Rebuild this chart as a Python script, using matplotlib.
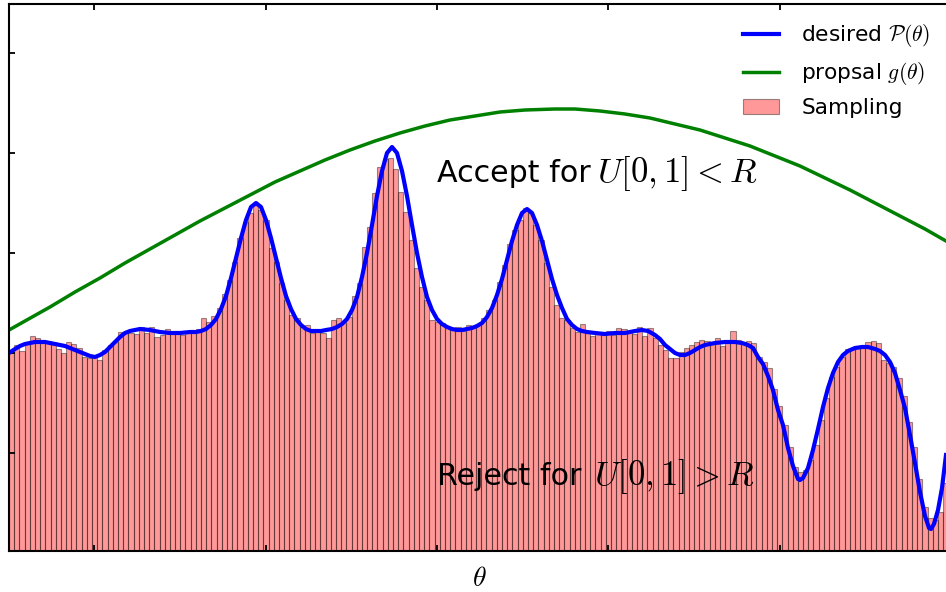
import numpy as np
import matplotlib
matplotlib.use("Agg")
import matplotlib.pyplot as plt

plt.rcParams['mathtext.fontset'] = 'cm'

# histogram of the accepted samples (density per bin, left to right)
bin_left = -4.28
bin_width = 0.0519
sample_density = [
    0.200, 0.208, 0.202, 0.210, 0.217, 0.215, 0.213, 0.212, 0.211, 0.204,
    0.200, 0.211, 0.209, 0.205, 0.196, 0.195, 0.196, 0.193, 0.203, 0.208,
    0.211, 0.221, 0.220, 0.220, 0.219, 0.226, 0.220, 0.226, 0.216, 0.218,
    0.224, 0.221, 0.222, 0.218, 0.220, 0.221, 0.224,
    0.235, 0.231, 0.237, 0.245, 0.259, 0.273, 0.291, 0.315, 0.331, 0.340,
    0.348, 0.343, 0.333, 0.305, 0.291, 0.270, 0.253, 0.238, 0.235, 0.226,
    0.228, 0.220, 0.221, 0.220,
    0.215, 0.233, 0.235, 0.230, 0.236, 0.257, 0.270, 0.306, 0.326, 0.360,
    0.386, 0.394, 0.395, 0.384, 0.361, 0.341, 0.313, 0.285, 0.266, 0.253,
    0.233, 0.231, 0.230, 0.226,
    0.223, 0.226, 0.222, 0.228, 0.227, 0.229, 0.235, 0.243, 0.253, 0.271,
    0.288, 0.309, 0.323, 0.333, 0.345, 0.340, 0.328, 0.313, 0.290, 0.266,
    0.248, 0.235, 0.233, 0.225, 0.221,
    0.229, 0.220, 0.217, 0.220, 0.218, 0.222, 0.218, 0.225, 0.224, 0.221,
    0.219, 0.226, 0.217, 0.225, 0.215, 0.208, 0.203, 0.195, 0.195, 0.201,
    0.205, 0.208, 0.211, 0.213, 0.212, 0.209, 0.215, 0.207, 0.212, 0.222,
    0.213,
    0.211, 0.212, 0.210, 0.196, 0.191, 0.185, 0.164, 0.147, 0.128, 0.106,
    0.086, 0.081, 0.083, 0.093, 0.108, 0.133, 0.155, 0.176, 0.186, 0.196,
    0.204, 0.204, 0.205, 0.206, 0.211, 0.212, 0.210, 0.193, 0.190, 0.186,
    0.175, 0.157, 0.131, 0.106, 0.074, 0.046, 0.035, 0.033, 0.041, 0.070,
]

# desired distribution P(theta)
theta_p = [
    -4.28, -4.22, -4.17, -4.12, -4.07, -4.02, -3.97, -3.92, -3.87, -3.82,
    -3.77, -3.72, -3.67, -3.62, -3.57, -3.52, -3.47, -3.42, -3.37, -3.32,
    -3.27, -3.22, -3.17, -3.12, -3.07, -3.02, -2.97, -2.87, -2.77, -2.67,
    -2.57, -2.47, -2.41, -2.36, -2.31, -2.26, -2.21, -2.16, -2.11, -2.06,
    -2.01, -1.96, -1.91, -1.86, -1.81, -1.76, -1.71, -1.66, -1.61, -1.56,
    -1.51, -1.46, -1.41, -1.36, -1.31, -1.26, -1.21, -1.16, -1.11, -1.05,
    -1.00, -0.95, -0.90, -0.85, -0.80, -0.75, -0.70, -0.65, -0.60, -0.55,
    -0.50, -0.45, -0.40, -0.35, -0.30, -0.25, -0.20, -0.15, -0.10, -0.05,
    0.00, 0.05, 0.10, 0.15, 0.20, 0.25, 0.30, 0.35, 0.40, 0.45,
    0.50, 0.55, 0.60, 0.65, 0.70, 0.75, 0.80, 0.85, 0.90, 0.95,
    1.00, 1.05, 1.10, 1.15, 1.20, 1.25, 1.30, 1.35, 1.40, 1.45,
    1.50, 1.58, 1.68, 1.78, 1.88, 1.98, 2.05, 2.11, 2.18, 2.23,
    2.28, 2.33, 2.38, 2.43, 2.48, 2.53, 2.58, 2.63, 2.68, 2.73,
    2.78, 2.88, 2.98, 3.05, 3.11, 3.16, 3.21, 3.26, 3.31, 3.36,
    3.41, 3.46, 3.51, 3.56, 3.61, 3.63, 3.66, 3.71, 3.76, 3.81,
    3.86, 3.91, 3.96, 4.01, 4.06, 4.11, 4.18, 4.25, 4.31, 4.38,
    4.43, 4.48, 4.53, 4.58, 4.63, 4.68, 4.73, 4.78, 4.83, 4.88,
    4.92, 4.94, 4.97, 5.01, 5.05, 5.09,
]
p_theta = [
    0.200, 0.204, 0.207, 0.209, 0.210, 0.211, 0.211, 0.211, 0.210, 0.209,
    0.208, 0.207, 0.205, 0.203, 0.201, 0.199, 0.197, 0.196, 0.198, 0.201,
    0.206, 0.211, 0.216, 0.220, 0.222, 0.223, 0.224, 0.223, 0.221, 0.220,
    0.220, 0.221, 0.221, 0.222, 0.224, 0.228, 0.234, 0.244, 0.257, 0.275,
    0.295, 0.315, 0.333, 0.346, 0.350, 0.346, 0.333, 0.315, 0.295, 0.275,
    0.257, 0.244, 0.234, 0.228, 0.224, 0.222, 0.222, 0.222, 0.223, 0.224,
    0.226, 0.229, 0.234, 0.243, 0.256, 0.276, 0.300, 0.328, 0.357, 0.382,
    0.400, 0.406, 0.400, 0.382, 0.357, 0.328, 0.300, 0.276, 0.256, 0.243,
    0.234, 0.229, 0.226, 0.224, 0.223, 0.223, 0.224, 0.225, 0.227, 0.230,
    0.236, 0.245, 0.258, 0.274, 0.293, 0.312, 0.328, 0.340, 0.344, 0.340,
    0.328, 0.312, 0.293, 0.274, 0.258, 0.245, 0.234, 0.228, 0.224, 0.222,
    0.221, 0.220, 0.219, 0.220, 0.220, 0.222, 0.223, 0.222, 0.218, 0.214,
    0.208, 0.204, 0.200, 0.198, 0.198, 0.200, 0.203, 0.206, 0.208, 0.209,
    0.210, 0.211, 0.211, 0.210, 0.208, 0.205, 0.196, 0.189, 0.177, 0.163,
    0.143, 0.128, 0.105, 0.087, 0.074, 0.073, 0.075, 0.085, 0.103, 0.124,
    0.146, 0.165, 0.180, 0.191, 0.198, 0.202, 0.205, 0.206, 0.206, 0.204,
    0.202, 0.198, 0.191, 0.180, 0.163, 0.145, 0.118, 0.090, 0.061, 0.037,
    0.025, 0.024, 0.029, 0.043, 0.065, 0.098,
]

# proposal g(theta)
theta_g = [
    -4.28, -4.12, -3.87, -3.62, -3.37, -3.12, -2.87, -2.62, -2.37, -2.12,
    -1.87, -1.62, -1.37, -1.12, -0.87, -0.62, -0.37, -0.12, 0.13, 0.38,
    0.63, 0.88, 1.18, 1.38, 1.63, 1.88, 2.13, 2.38, 2.63, 2.88,
    3.13, 3.38, 3.63, 3.88, 4.13, 4.38, 4.63, 4.88, 5.09,
]
g_theta = [
    0.223, 0.232, 0.246, 0.261, 0.275, 0.290, 0.304, 0.318, 0.332, 0.345,
    0.358, 0.371, 0.382, 0.393, 0.403, 0.412, 0.420, 0.427, 0.433, 0.437,
    0.441, 0.443, 0.444, 0.444, 0.442, 0.439, 0.435, 0.429, 0.423, 0.415,
    0.407, 0.397, 0.387, 0.375, 0.363, 0.350, 0.337, 0.324, 0.312,
]

xtick_vals = [-3.426, -1.713, 0, 1.713, 3.426]
ytick_vals = [0.1, 0.2, 0.3, 0.4, 0.5]

fig = plt.figure(figsize=(9.46, 5.92), dpi=100)
ax = fig.add_axes([9 / 946, 1 - 551 / 592, 940 / 946, 547 / 592])

centers = bin_left + bin_width * (np.arange(len(sample_density)) + 0.5)
ax.plot(theta_p, p_theta, 'b-', linewidth=3, label=r'desired $\mathcal{P}(\theta)$')
ax.plot(theta_g, g_theta, 'g-', linewidth=2.5, label=r'propsal $g(\theta)$')
ax.bar(centers, sample_density, width=bin_width, color='r', alpha=0.4,
       edgecolor='k', linewidth=0.8, label='Sampling', zorder=1)

# annotations: plain words, then the condition in math type
ax.text(0, 0.371, 'Accept for', fontsize=21.7, va='baseline', ha='left')
ax.text(1.60, 0.371, r'$U[0,1] < R$', fontsize=25, va='baseline', ha='left')
ax.text(0, 0.068, 'Reject for', fontsize=21.7, va='baseline', ha='left')
ax.text(1.57, 0.068, r'$U[0,1] > R$', fontsize=25, va='baseline', ha='left')

ax.set_xlim(-4.28, 5.12)
ax.set_ylim(0.002, 0.549)
ax.set_xticks(xtick_vals)
ax.set_yticks(ytick_vals)
ax.set_xticklabels([])
ax.set_yticklabels([])
ax.tick_params(direction='in', top=True, right=False, length=4, width=1.3)
for s in ax.spines.values():
    s.set_linewidth(1.5)
ax.set_xlabel(r'$\theta$', fontsize=20, labelpad=6)

ax.legend(loc='upper right', frameon=False, fontsize=15.6, handlelength=1.65,
          handletextpad=1.05, borderaxespad=0.45, labelspacing=0.5)

fig.savefig('out.png', dpi=100)
